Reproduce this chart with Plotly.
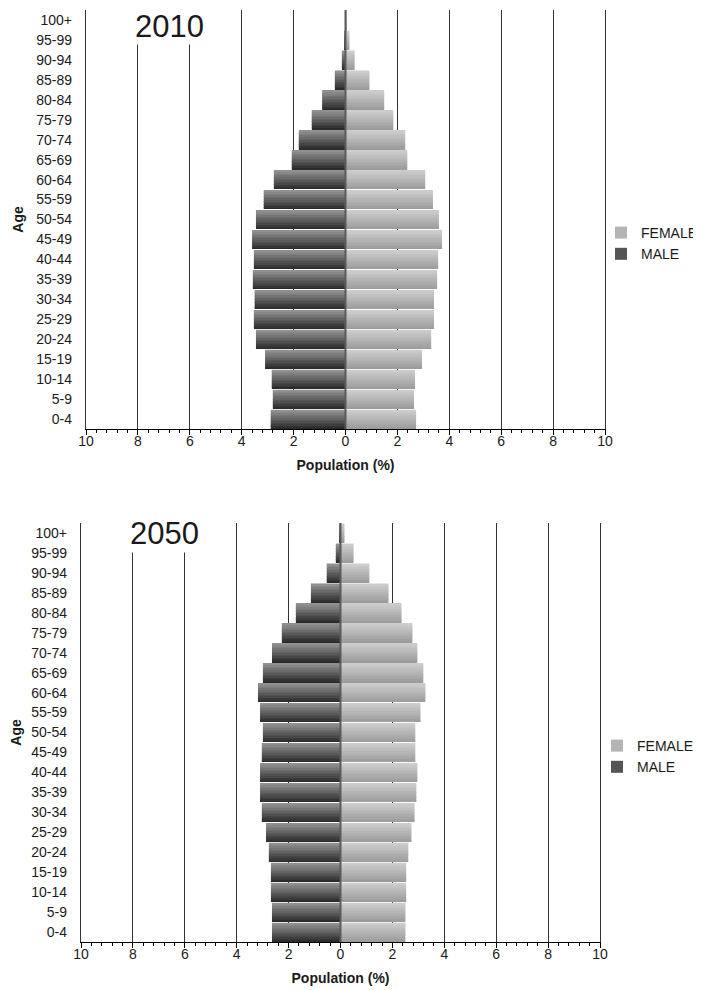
import plotly.graph_objects as go

age_groups = ["0-4", "5-9", "10-14", "15-19", "20-24", "25-29", "30-34", "35-39",
              "40-44", "45-49", "50-54", "55-59", "60-64", "65-69", "70-74", "75-79",
              "80-84", "85-89", "90-94", "95-99", "100+"]

male_2010 = [2.88, 2.80, 2.84, 3.10, 3.45, 3.53, 3.50, 3.57, 3.53, 3.60, 3.45,
             3.15, 2.76, 2.07, 1.80, 1.30, 0.90, 0.41, 0.14, 0.05, 0.01]
female_2010 = [2.72, 2.64, 2.68, 2.95, 3.30, 3.41, 3.41, 3.53, 3.57, 3.72, 3.60,
               3.37, 3.07, 2.38, 2.30, 1.84, 1.49, 0.92, 0.35, 0.15, 0.02]
male_2050 = [2.64, 2.64, 2.68, 2.68, 2.76, 2.87, 3.03, 3.10, 3.10, 3.03, 2.99,
             3.10, 3.18, 2.99, 2.64, 2.26, 1.72, 1.14, 0.53, 0.18, 0.03]
female_2050 = [2.50, 2.50, 2.53, 2.53, 2.61, 2.73, 2.85, 2.92, 2.96, 2.88, 2.88,
               3.08, 3.27, 3.19, 2.96, 2.77, 2.35, 1.85, 1.11, 0.50, 0.15]

x_tickvals = [-10, -8, -6, -4, -2, 0, 2, 4, 6, 8, 10]
x_ticktext = ["10", "8", "6", "4", "2", "0", "2", "4", "6", "8", "10"]

FONT = "Liberation Sans, Arial, sans-serif"
N_STRIPES = 12
BAR_W = 0.94


def lerp_color(c0, c1, t):
    r = [round(a + (b - a) * t) for a, b in zip(c0, c1)]
    return "rgb({},{},{})".format(*r)


MALE_BOTTOM, MALE_TOP = (44, 44, 44), (144, 144, 144)
FEMALE_BOTTOM, FEMALE_TOP = (156, 156, 156), (204, 204, 204)

fig = go.Figure()


def add_pyramid(male, female, xaxis, yaxis, legend):
    for name, vals, sign, cb, ct, rank, legcol in [
        ("FEMALE", female, 1, FEMALE_BOTTOM, FEMALE_TOP, 1, "rgb(180,180,180)"),
        ("MALE", male, -1, MALE_BOTTOM, MALE_TOP, 2, "rgb(85,85,85)"),
    ]:
        for i in range(N_STRIPES):
            t = i / (N_STRIPES - 1)
            fig.add_trace(go.Bar(
                x=[sign * v for v in vals], y=age_groups, orientation="h",
                width=BAR_W / N_STRIPES, offset=-BAR_W / 2 + i * BAR_W / N_STRIPES,
                marker=dict(color=lerp_color(cb, ct, t), line=dict(width=0)),
                name=name, showlegend=False, legendgroup=name + legend,
                xaxis=xaxis, yaxis=yaxis, hoverinfo="skip",
            ))
        # legend entry
        fig.add_trace(go.Bar(
            x=[None], y=[None], orientation="h", name=name,
            marker=dict(color=legcol, line=dict(width=0)),
            showlegend=True, legend=legend, legendrank=rank,
            legendgroup=name + legend, xaxis=xaxis, yaxis=yaxis,
        ))


add_pyramid(male_2010, female_2010, "x", "y", "legend")
add_pyramid(male_2050, female_2050, "x2", "y2", "legend2")

# page has an 8px body margin; figure sized to fit inside the 701x990 window
OFF = 8
W, H = 701 - OFF, 990 - OFF


def px_x(x):
    return (x - OFF) / W


def px_y(y):
    return 1 - (y - OFF) / H


def xaxis_style(x0, x1, anchor):
    return dict(
        domain=[px_x(x0), px_x(x1)], anchor=anchor, range=[-10, 10],
        tickvals=x_tickvals, ticktext=x_ticktext,
        showgrid=True, gridcolor="#333333", gridwidth=1.3,
        zeroline=False, showline=True, linecolor="black", linewidth=1.3,
        ticks="outside", ticklen=5, tickcolor="black",
        minor=dict(dtick=0.4, tick0=0, ticks="outside", ticklen=3, tickcolor="black", showgrid=False),
        tickfont=dict(family=FONT, size=14, color="#1a1a1a"),
        ticklabelstandoff=-6,
        title=dict(text="<b>Population (%)</b>", font=dict(family=FONT, size=14, color="#1a1a1a"), standoff=12),
        automargin=False, fixedrange=True,
    )


def yaxis_style(y_top, y_bot, anchor):
    return dict(
        domain=[px_y(y_bot), px_y(y_top)], anchor=anchor,
        type="category", categoryorder="array", categoryarray=age_groups,
        range=[-0.5, len(age_groups) - 0.5],
        showgrid=False, zeroline=False,
        showline=True, mirror=True, linecolor="#333333", linewidth=1.3,
        ticks="", ticklabelstandoff=10,
        tickfont=dict(family=FONT, size=14, color="#1a1a1a"),
        title=dict(text="<b>Age</b>", font=dict(family=FONT, size=14, color="#1a1a1a"), standoff=9),
        automargin=False, fixedrange=True,
    )


fig.update_layout(
    width=W, height=H,
    margin=dict(l=0, r=0, t=0, b=0, autoexpand=False),
    paper_bgcolor="white", plot_bgcolor="white",
    barmode="overlay",
    font=dict(family=FONT, size=14, color="#1a1a1a"),
    xaxis=xaxis_style(86, 605, "y"),
    yaxis=yaxis_style(10, 429, "x"),
    xaxis2=xaxis_style(81, 600, "y2"),
    yaxis2=yaxis_style(523, 942, "x2"),
    legend=dict(x=px_x(601), y=px_y(217), xanchor="left", yanchor="top",
                font=dict(family=FONT, size=14, color="#1a1a1a"),
                bgcolor="rgba(0,0,0,0)", tracegroupgap=0),
    legend2=dict(x=px_x(597), y=px_y(730), xanchor="left", yanchor="top",
                 font=dict(family=FONT, size=14, color="#1a1a1a"),
                 bgcolor="rgba(0,0,0,0)", tracegroupgap=0),
    showlegend=True,
)

# zero reference lines drawn above bars
for xr, yr in [("x", "y domain"), ("x2", "y2 domain")]:
    fig.add_shape(type="line", xref=xr, yref=yr, x0=0, x1=0, y0=0, y1=1,
                  line=dict(color="#5a5a5a", width=2), layer="above")

# panel year labels (white box hides the gridlines behind the text)
fig.add_annotation(text="2010", xref="x domain", yref="paper", x=0.16, y=1.0,
                   xanchor="center", yanchor="top", showarrow=False,
                   font=dict(family=FONT, size=31, color="#1a1a1a"),
                   bgcolor="white", borderpad=0)
fig.add_annotation(text="2050", xref="x2 domain", yref="y2 domain", x=0.16, y=1.0,
                   xanchor="center", yanchor="top", yshift=9, showarrow=False,
                   font=dict(family=FONT, size=31, color="#1a1a1a"),
                   bgcolor="white", borderpad=1)

fig.write_html("out.html")
